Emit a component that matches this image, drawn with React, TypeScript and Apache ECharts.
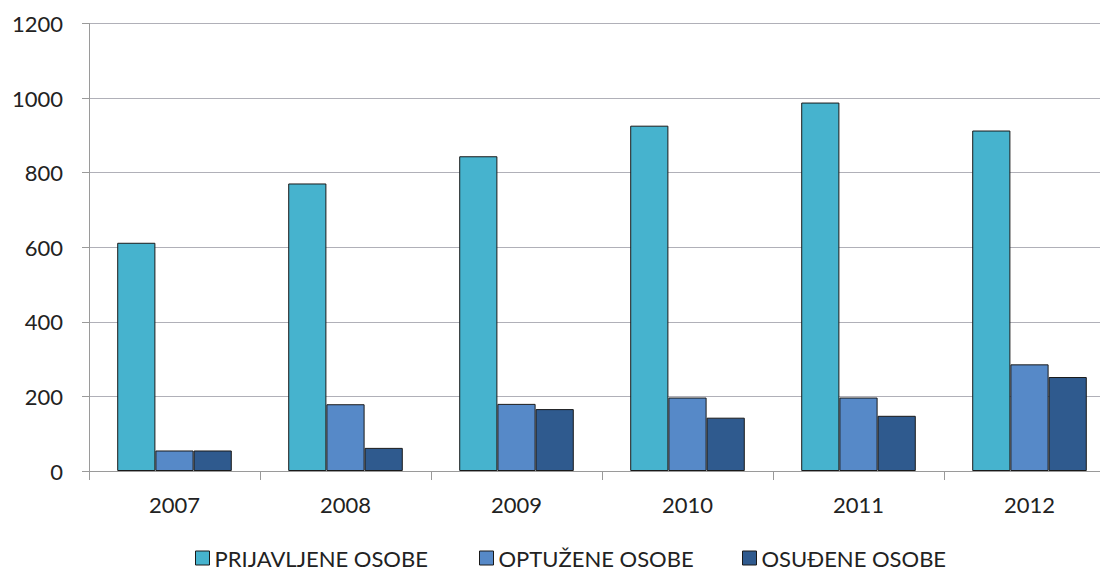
import React, { useEffect, useRef } from "react";
import * as echarts from "echarts";

const categories = ["2007", "2008", "2009", "2010", "2011", "2012"];
const prijavljene = [612, 771, 844, 926, 988, 913];
const optuzene = [55, 179, 180, 197, 197, 286];
const osudjene = [55, 62, 166, 143, 148, 252];
const seriesNames = ["PRIJAVLJENE OSOBE", "OPTUŽENE OSOBE", "OSUĐENE OSOBE"];
const colors = ["#46B3CE", "#5689C8", "#2F5A8E"];
const legendLefts = [195, 479, 742];

export default function App() {
  const ref = useRef<HTMLDivElement>(null);
  useEffect(() => {
    if (!ref.current) return;
    const chart = echarts.init(ref.current, null, { renderer: "svg" });
    const font = "Lato, 'Open Sans', sans-serif";
    const data = [prijavljene, optuzene, osudjene];
    chart.setOption({
      animation: false,
      backgroundColor: "#ffffff",
      grid: {
        left: 89,
        top: 23.5,
        width: 1026,
        height: 447.5,
        containLabel: false,
        outerBoundsMode: "none",
      },
      legend: seriesNames.map((n, i) => ({
        top: 547,
        left: legendLefts[i],
        padding: 0,
        itemWidth: 14,
        itemHeight: 14,
        icon: "rect",
        selectedMode: false,
        textStyle: {
          fontFamily: font,
          fontSize: 22,
          lineHeight: 17,
          color: "#222",
          padding: [0, 0, 0, 0],
        },
        data: [
          {
            name: n,
            itemStyle: { color: colors[i], borderColor: "#1a1a1a", borderWidth: 1 },
          },
        ],
      })),
      xAxis: {
        type: "category",
        data: categories,
        axisLine: { lineStyle: { color: "#9a9a9a", width: 1 } },
        axisTick: { show: true, length: 9, lineStyle: { color: "#9a9a9a" } },
        axisLabel: { fontFamily: font, fontSize: 22, color: "#222", margin: 22 },
        splitLine: { show: false },
      },
      yAxis: {
        type: "value",
        min: 0,
        max: 1200,
        interval: 200,
        axisLine: { show: true, lineStyle: { color: "#9a9a9a", width: 1 } },
        axisTick: { show: true, length: 7, lineStyle: { color: "#9a9a9a" } },
        axisLabel: {
          fontFamily: font,
          fontSize: 22,
          color: "#222",
          margin: 26,
          formatter: (v: number) => String(v),
        },
        splitLine: { lineStyle: { color: "#b0b0b8", width: 1.2 } },
      },
      series: seriesNames.map((n, i) => ({
        name: n,
        type: "bar",
        data: data[i],
        barGap: "0%",
        barCategoryGap: "33%",
        itemStyle: { color: colors[i], borderColor: "#1a1a1a", borderWidth: 1 },
      })),
    });
    return () => chart.dispose();
  }, []);
  return (
    <div
      ref={ref}
      style={{ position: "absolute", left: 0, top: 0, width: 1100, height: 571 }}
    />
  );
}
